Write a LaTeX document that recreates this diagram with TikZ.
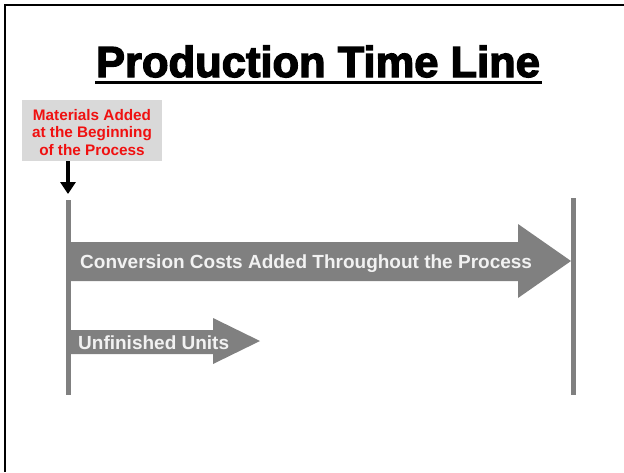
\documentclass[tikz,border=0pt]{standalone}
\usepackage{fontspec}
\setmainfont{Liberation Sans}
\newfontfamily\heavyfont[FakeBold=3]{Liberation Sans Bold}
\usetikzlibrary{arrows.meta}
\definecolor{bargray}{HTML}{808080}
\definecolor{boxgray}{HTML}{D9D9D9}
\definecolor{notered}{HTML}{F01010}
\begin{document}
\begin{tikzpicture}[x=1pt,y=-1pt,
  timeline/.style={draw=bargray,line width=5pt},
  barfill/.style={fill=bargray,draw=none},
  bartext/.style={text=white!95!black,font=\bfseries\fontsize{19}{22}\selectfont,inner sep=0pt,anchor=west},
  notetext/.style={text=notered,font=\bfseries\fontsize{15.3}{17.5}\selectfont,align=center,minimum width=140pt,minimum height=61pt,inner sep=0pt}]
  \useasboundingbox (0,0) rectangle (624,472);
  \fill[white] (0,0) rectangle (624,472);
  % frame (top and left edges)
  \draw[line width=1.5pt] (5,472) -- (5,5) -- (624,5);

  % title with underline
  \node[font=\heavyfont\fontsize{43.5}{48}\selectfont,anchor=base,inner sep=0pt] (title) at (318,77) {Production Time Line};
  \draw[line width=2.5pt] (95,82.5) -- (542,82.5);

  % start and end of the process
  \coordinate (startTop) at (68,200);
  \coordinate (startBot) at (68,395);
  \coordinate (endTop) at (573,198);
  \coordinate (endBot) at (573,395);
  \draw[timeline] (startTop) -- (startBot);
  \draw[timeline] (endTop) -- (endBot);

  % conversion costs arrow
  \path[barfill] (70,242) -- (518,242) -- (518,224) -- (571,261) -- (518,298) -- (518,281) -- (70,281) -- cycle;
  \node[bartext] (conv) at (80,263.5) {Conversion Costs Added Throughout the Process};

  % unfinished units arrow
  \path[barfill] (70,330) -- (213,330) -- (213,318) -- (260,341) -- (213,364) -- (213,354) -- (70,354) -- cycle;
  \node[bartext] (units) at (78,343) {Unfinished Units};

  % materials note and its pointer
  \fill[boxgray] (22,100) rectangle (162,161);
  \node[notetext] (mat) at (92,132.5) {Materials Added\\at the Beginning\\of the Process};
  \coordinate (matTip) at (68,194);
  \draw[line width=4pt,-{Triangle[width=15pt,length=12pt]}] (68,161) -- (matTip);
\end{tikzpicture}
\end{document}
